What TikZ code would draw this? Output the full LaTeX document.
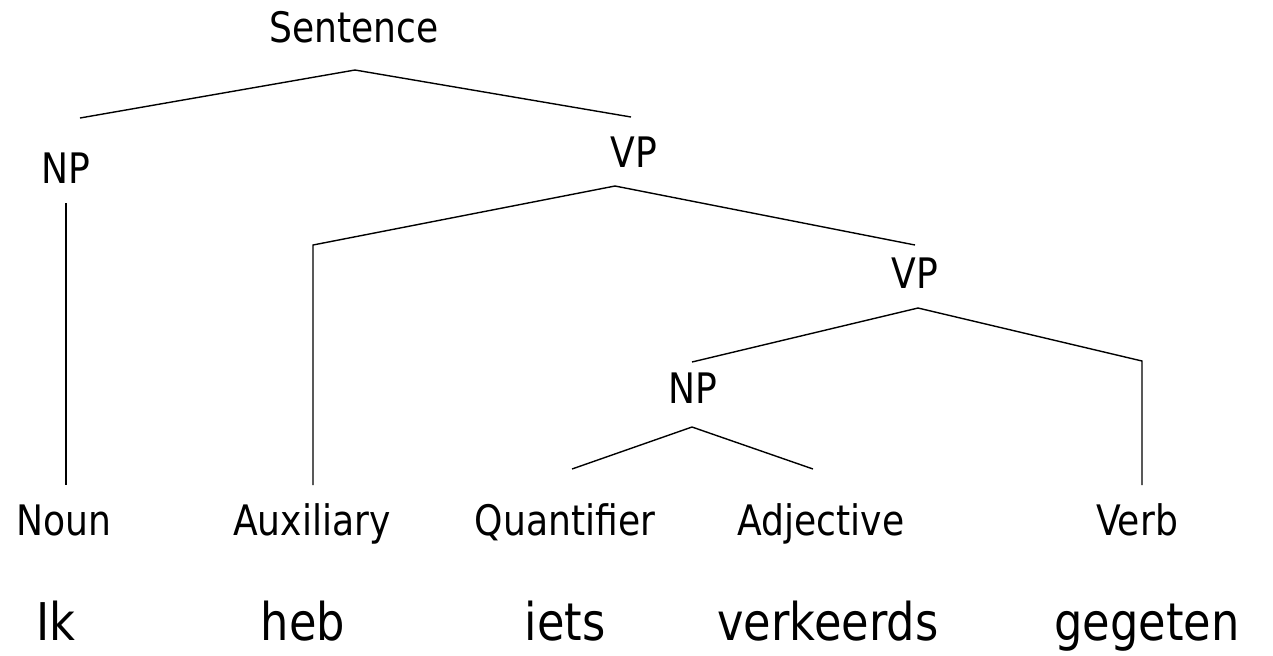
\documentclass[tikz,border=0pt]{standalone}
\usepackage{fontspec}
\setmainfont{DejaVu Sans}[FakeStretch=0.86]
\begin{document}
\begin{tikzpicture}[x=0.5pt,y=-0.5pt,
  cat/.style={anchor=base,inner sep=0pt,font=\fontsize{21pt}{24pt}\selectfont},
  word/.style={anchor=base,inner sep=0pt,font=\fontsize{26pt}{30pt}\selectfont},
  branch/.style={line width=0.7pt,black}]
\useasboundingbox (0,0) rectangle (1273,655);

% category labels (placed on their baselines)
\node[cat] (s)   at (354,42)  {Sentence};
\node[cat] (np1) at (66,183)  {NP};
\node[cat] (vp1) at (634,167) {VP};
\node[cat] (vp2) at (915,288) {VP};
\node[cat] (np2) at (693,403) {NP};

% part-of-speech row
\node[cat] (noun) at (64,535)   {Noun};
\node[cat] (aux)  at (312,535)  {Auxiliary};
\node[cat] (quan) at (565,535)  {Quantifier};
\node[cat] (adj)  at (821,535)  {Adjective};
\node[cat] (verb) at (1137,535) {Verb};

% words of the sentence
\node[word] (w1) at (56,640)   {Ik};
\node[word] (w2) at (303,640)  {heb};
\node[word] (w3) at (565,640)  {iets};
\node[word] (w4) at (828,640)  {verkeerds};
\node[word] (w5) at (1147,640) {gegeten};

% branch points
\coordinate (sA)  at (355,70);
\coordinate (sL)  at (80,118);
\coordinate (sR)  at (631,117);
\coordinate (n1T) at (66,203);
\coordinate (n1B) at (66,485);
\coordinate (v1A) at (615,186);
\coordinate (v1L) at (313,245);
\coordinate (v1B) at (313,485);
\coordinate (v1R) at (915,245);
\coordinate (v2A) at (918,308);
\coordinate (v2L) at (692,362);
\coordinate (v2R) at (1142,361);
\coordinate (v2B) at (1142,485);
\coordinate (n2A) at (692,427);
\coordinate (n2L) at (572,469);
\coordinate (n2R) at (813,469);

% tree branches
\draw[branch] (sL) -- (sA) -- (sR);
\draw[branch] (n1T) -- (n1B);
\draw[branch] (v1B) -- (v1L) -- (v1A) -- (v1R);
\draw[branch] (v2L) -- (v2A) -- (v2R) -- (v2B);
\draw[branch] (n2L) -- (n2A) -- (n2R);
\end{tikzpicture}
\end{document}
